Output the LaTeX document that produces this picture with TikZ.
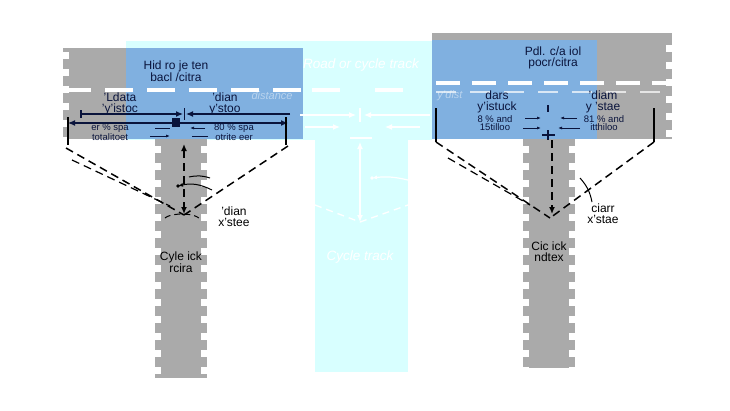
\documentclass[tikz,border=0pt]{standalone}
\usepackage{fontspec}
\setmainfont{Liberation Sans}
\usetikzlibrary{arrows.meta}
\definecolor{cyanbg}{RGB}{216,255,255}
\definecolor{graybg}{RGB}{170,170,170}
\definecolor{bluebg}{RGB}{128,176,224}
\definecolor{navy}{RGB}{10,20,60}
\tikzset{
  lbl/.style={inner sep=0pt,font=\fontsize{12}{11}\selectfont,text=navy,align=center},
  slbl/.style={inner sep=0pt,font=\fontsize{9.5}{8.6}\selectfont,text=navy,align=center},
  blk/.style={inner sep=0pt,font=\fontsize{12}{11}\selectfont,text=black,align=center},
  wlbl/.style={inner sep=0pt,font=\fontsize{13.5}{13}\selectfont\itshape,text=white,align=center},
  notch/.style={white,line width=6pt,dash pattern=on 7pt off 10pt},
  road/.style={white,line width=3.5pt,dash pattern=on 28pt off 14pt},
  dim/.style={navy,line width=1.2pt,-{Latex[length=7pt,width=6pt]}},
  sight/.style={black,line width=1.5pt,dash pattern=on 8pt off 5pt},
  wdim/.style={white,line width=1.2pt,-{Latex[length=7pt,width=6pt]}},
}
\begin{document}
\begin{tikzpicture}[x=1pt,y=-1pt]
\useasboundingbox (0,0) rectangle (730,410);
% areas
\fill[cyanbg] (126,41) rectangle (432,140);
\fill[cyanbg] (315,140) rectangle (408,372);
\fill[graybg] (63,48) rectangle (303,139);
\fill[graybg] (155,139) rectangle (207,378);
\fill[bluebg] (126,48) rectangle (303,139);
\fill[graybg] (432,33) rectangle (672,139);
\fill[graybg] (523,139) rectangle (575,368);
\fill[bluebg] (432,40) rectangle (597,139);
% notches
\draw[notch] (66,52) -- (66,139);
\draw[notch] (158,146) -- (158,378);
\draw[notch] (204,146) -- (204,378);
\draw[notch] (669,45) -- (669,139);
\draw[notch] (526,146) -- (526,368);
\draw[notch] (572,146) -- (572,368);
% road markings
\draw[road] (63,90) -- (303,90);
\draw[road,line width=4pt] (312,90) -- (347,90);
\draw[road,line width=4pt] (375,90) -- (410,90);
\draw[road,dash pattern=on 24pt off 12pt] (436,83) -- (672,83);
\draw[white,line width=2.5pt,dash pattern=on 20pt off 14pt,opacity=0.7] (436,92) -- (672,92);
% cyan white items
\node[wlbl] (rt) at (361,65) {Road or cycle track};
\node[wlbl] (ct) at (360,257) {Cycle track};
\node[wlbl,opacity=0.45,font=\fontsize{11}{11}\selectfont\itshape] (dst) at (272,96) {distance};
\node[wlbl,opacity=0.45,font=\fontsize{11}{11}\selectfont\itshape] (dst2) at (450,96) {y'dist};
\coordinate (wa1) at (300,115); \coordinate (wa2) at (356,115);
\coordinate (wa3) at (430,115); \coordinate (wa4) at (364,115);
\draw[wdim] (wa1) -- (wa2);
\draw[wdim] (wa3) -- (wa4);
\draw[white,line width=1.2pt] (360,108) -- (360,122);
\coordinate (wb1) at (305,127); \coordinate (wb2) at (340,127);
\coordinate (wb3) at (420,127); \coordinate (wb4) at (385,127);
\draw[wdim] (wb1) -- (wb2);
\draw[wdim] (wb3) -- (wb4);
\draw[white,line width=1.5pt] (350,138) -- (372,138);
\coordinate (wv1) at (360,142); \coordinate (wv2) at (360,222);
\draw[wdim,{Latex[length=7pt,width=6pt]}-{Latex[length=7pt,width=6pt]}] (wv1) -- (wv2);
\coordinate (wc1) at (408,180); \coordinate (wc2) at (372,178);
\draw[white,line width=1.2pt,-{Latex[length=5pt,width=4pt]}] (wc1) to[bend right=10] (wc2);
\fill[white] (wc2) circle (1.8pt);
\coordinate (ws1) at (315,205); \coordinate (ws2) at (360,222); \coordinate (ws3) at (408,205);
\draw[white,line width=1.3pt,dash pattern=on 7pt off 5pt] (ws1) -- (ws2) -- (ws3);
% left labels
\node[lbl] (l1) at (176,71) {Hid ro je ten\\bacl /citra};
\node[lbl] (l2) at (120,104) {'Ldata\\'y'istoc};
\node[lbl] (l3) at (225,104) {'dian\\y'stoo};
\node[slbl] (l4) at (110,132) {er \% spa\\totalitoet};
\node[slbl] (l5) at (234,132) {80 \% spa\\otrite eer};
% left dims
\coordinate (a1) at (81,114); \coordinate (a2) at (183,114);
\coordinate (a3) at (290,114); \coordinate (a4) at (186,114);
\draw[navy,line width=1.2pt] (81,110) -- (81,118);
\draw[dim] (a1) -- (a2);
\draw[dim] (a3) -- (a4);
\draw[navy,line width=1.2pt] (184.5,108) -- (184.5,120);
\coordinate (b0) at (177,123);
\coordinate (b1) at (68,123); \coordinate (b2) at (288,123);
\draw[dim] (b0) -- (b1);
\draw[dim] (b0) -- (b2);
\fill[navy] (172,118) rectangle (180,127);
\draw[navy,line width=0.8pt] (155,128) -- (170,128);
\draw[navy,line width=0.8pt,-{Latex[length=4pt,width=3pt]}] (150,136) -- (170,136);
\draw[navy,line width=0.8pt,-{Latex[length=4pt,width=3pt]}] (205,128) -- (190,128);
\draw[navy,line width=0.8pt] (208,136) -- (192,136);
\draw[black,line width=1.3pt] (68,117) -- (68,145);
\draw[black,line width=1.3pt] (286,117) -- (286,145);
% left sight lines
\coordinate (lp) at (184,215);
\coordinate (ls1) at (66,148); \coordinate (ls2) at (288,146);
\draw[sight] (ls1) -- (lp);
\draw[sight] (ls2) -- (lp);
\draw[sight,line width=1.2pt] (72,160) -- (170,206);
\coordinate (lv1) at (184,144); \coordinate (lv2) at (184,214);
\draw[sight,{Latex[length=7pt,width=6pt]}-{Latex[length=7pt,width=6pt]}] (lv1) -- (lv2);
\draw[black,line width=1pt,dash pattern=on 6pt off 4pt] (165,218) arc (200:340:18 and 6);
\coordinate (lc1) at (212,190); \coordinate (lc2) at (178,186);
\draw[black,line width=1pt,-{Latex[length=5pt,width=4pt]}] (lc1) to[bend right=20] (lc2);
\fill[black] (lc2) circle (1.8pt);
\draw[black,line width=1pt] (189,177) to[bend left=15] (210,178);
\node[blk] (l6) at (234,217) {'dian\\x'stee};
\node[blk] (l7) at (181,262) {Cyle ick\\rcira};
% right labels
\node[lbl] (r1) at (553,58) {Pdl. c/a iol\\pocr/citra};
\node[lbl] (r2) at (497,102) {dars\\y'istuck};
\node[lbl] (r3) at (603,102) {'diam\\y 'stae};
\node[slbl] (r4) at (495,123) {8 \% and\\15tilloo};
\node[slbl] (r5) at (604,123) {81 \% and\\itthiloo};
\draw[navy,line width=0.9pt,-{Latex[length=4pt,width=3pt]}] (525,118) -- (541,118);
\draw[navy,line width=0.9pt,-{Latex[length=4pt,width=3pt]}] (523,128) -- (541,128);
\draw[navy,line width=0.9pt,-{Latex[length=4pt,width=3pt]}] (577,118) -- (560,118);
\draw[navy,line width=0.9pt,-{Latex[length=4pt,width=3pt]}] (580,128) -- (558,128);
\draw[navy,line width=1.2pt] (548,105) -- (548,112);
\draw[navy,line width=1.2pt] (542,135) -- (555,135);
\draw[navy,line width=1.2pt] (548,130) -- (548,140);
\draw[black,line width=1.3pt] (436,108) -- (436,142);
\draw[black,line width=1.3pt] (654,108) -- (654,142);
\coordinate (rp) at (550,218);
\coordinate (rs1) at (436,142); \coordinate (rs2) at (654,142);
\draw[sight] (rs1) -- (rp);
\draw[sight] (rs2) -- (rp);
\draw[sight,line width=1.2pt] (448,158) -- (530,205);
\coordinate (rv1) at (552,140); \coordinate (rv2) at (552,214);
\draw[sight,-{Latex[length=7pt,width=6pt]}] (rv1) -- (rv2);
\coordinate (rc1) at (580,178); \coordinate (rc2) at (592,202);
\draw[black,line width=1pt] (rc1) to[bend left=15] (rc2);
\node[blk] (r6) at (603,214) {ciarr\\x'stae};
\node[blk] (r7) at (549,252) {Cic ick\\ndtex};
\end{tikzpicture}
\end{document}
